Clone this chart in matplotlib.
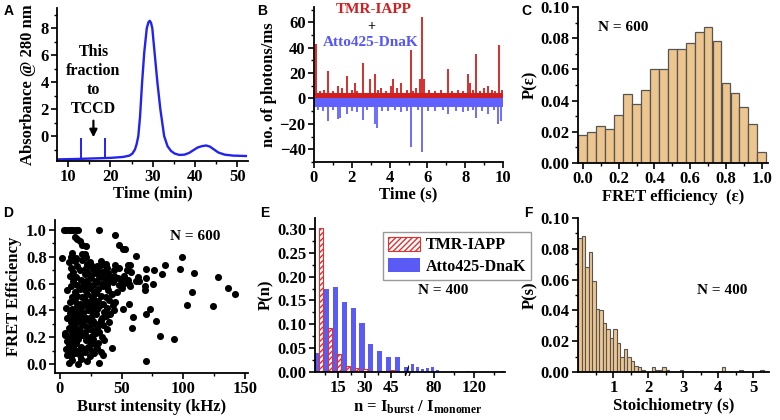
import numpy as np
import matplotlib.pyplot as plt
from matplotlib.ticker import MultipleLocator, FixedLocator
from matplotlib.patches import Patch

plt.rcParams['font.family'] = ['Liberation Serif', 'DejaVu Serif']
plt.rcParams['font.weight'] = 'bold'
plt.rcParams['axes.labelweight'] = 'bold'
plt.rcParams['font.size'] = 12
plt.rcParams['axes.labelsize'] = 12
plt.rcParams['mathtext.fontset'] = 'custom'
plt.rcParams['mathtext.rm'] = 'Liberation Serif:bold'
plt.rcParams['mathtext.it'] = 'Liberation Serif:bold'
plt.rcParams['mathtext.bf'] = 'Liberation Serif:bold'
plt.rcParams['axes.linewidth'] = 1.3
for a in ['xtick', 'ytick']:
    plt.rcParams[a + '.direction'] = 'out'
    plt.rcParams[a + '.major.size'] = 4
    plt.rcParams[a + '.minor.size'] = 2.5
    plt.rcParams[a + '.major.width'] = 1.2
    plt.rcParams[a + '.minor.width'] = 1.0
    plt.rcParams[a + '.major.pad'] = 2

# ---- data ----
# A: chromatogram
time_min = [7.5, 12, 16, 20, 23, 24.5, 25.2, 25.8, 26.2, 26.6, 27.0, 27.5, 28.0, 28.6, 29.0,
            29.3, 29.6, 29.9, 30.5, 31.1, 31.8, 32.7, 33.5, 34.3, 35.2, 36.3, 37.5, 38.6,
            39.6, 40.6, 41.6, 42.6, 43.5, 44.4, 45.5, 47, 49, 52]
absorb = [-1.73, -1.7, -1.66, -1.62, -1.55, -1.45, -1.3, -1.0, -0.6, 0.0, 1.4, 4.0, 6.2, 8.0, 8.45,
          8.55, 8.4, 8.0, 6.0, 4.0, 2.0, 0.0, -0.75, -1.1, -1.3, -1.4, -1.38, -1.25,
          -1.05, -0.85, -0.75, -0.7, -0.78, -0.98, -1.22, -1.38, -1.45, -1.48]
fraction_t = [13.0, 18.7]
fraction_top = [-0.12, -0.15]
fraction_base = [-1.68, -1.63]

# B: photon trace (band level + bursts)
red_level = 4.5
blue_level = -7
red_t = [0.1, 0.74, 1.29, 1.74, 2.17, 2.61, 2.96, 3.22, 3.57, 4.07, 4.19, 4.6, 5.12, 5.42, 5.63,
         5.74, 5.83, 7.09, 8.15, 8.24, 8.57, 9.21, 9.81,
         0.3, 0.55, 1.0, 1.5, 2.0, 2.3, 3.4, 3.8, 4.4, 4.9, 5.25, 6.1, 6.4, 6.7, 7.3, 7.6, 7.9,
         8.4, 8.8, 9.0, 9.4, 9.6, 9.95]
red_h = [43, 22, 10, 18, 12, 28, 15, 19, 8, 10, 15, 12, 38, 8, 15, 64, 15, 23, 19, 12, 35, 10, 42,
         6, 7, 6, 8, 7, 6, 7, 6, 8, 7, 6, 7, 6, 7, 6, 7, 6, 7, 6, 8, 7, 6, 7]
blue_t = [0.74, 1.29, 1.39, 1.74, 2.61, 3.22, 3.31, 3.93, 5.12, 5.74, 6.04, 7.09, 8.15, 8.57,
          9.21, 9.74, 9.88,
          0.2, 0.5, 1.0, 2.0, 2.3, 2.8, 3.6, 4.3, 4.6, 4.9, 5.5, 6.4, 6.8, 7.5, 7.9, 8.4, 8.9, 9.5]
blue_h = [-18, -16, -15, -12, -17, -20, -23, -10, -38, -42, -10, -12, -10, -15, -12, -20, -18,
          -9, -10, -9, -10, -11, -9, -10, -9, -11, -10, -9, -10, -9, -10, -11, -9, -10, -9]

# C: FRET efficiency histogram
fret_bins = [0.0, 0.05, 0.1, 0.15, 0.2, 0.25, 0.3, 0.35, 0.4, 0.45, 0.5, 0.55, 0.6, 0.65,
             0.7, 0.75, 0.8, 0.85, 0.9, 0.95, 1.0]
fret_p = [0.018, 0.020, 0.024, 0.022, 0.031, 0.044, 0.038, 0.047, 0.060, 0.060, 0.073, 0.073,
          0.077, 0.084, 0.087, 0.078, 0.051, 0.045, 0.036, 0.025, 0.007]

# D: burst intensity vs FRET efficiency
scatter_pts = [
    (7, 0.01), (10, 0.03), (15, 0.00), (17, 0.04), (22, 0.02), (32, 0.01),
    (6, 0.07), (9, 0.06), (12, 0.08), (16, 0.07), (20, 0.09), (24, 0.06), (28, 0.08), (35, 0.07),
    (5, 0.11), (8, 0.10), (11, 0.12), (14, 0.10), (19, 0.11), (23, 0.13), (26, 0.10), (30, 0.12), (33, 0.09),
    (7, 0.14), (12, 0.15), (17, 0.13), (25, 0.15), (29, 0.14), (42, 0.12),
    (6, 0.17), (9, 0.18), (13, 0.16), (21, 0.18), (24, 0.17), (27, 0.19), (31, 0.16), (36, 0.18),
    (8, 0.20), (11, 0.21), (15, 0.19), (18, 0.22), (22, 0.20), (26, 0.21), (29, 0.23), (34, 0.20),
    (4, 0.22), (10, 0.24), (13, 0.23), (16, 0.25), (20, 0.24), (24, 0.26), (28, 0.25), (32, 0.24), (38, 0.26),
    (7, 0.27), (11, 0.28), (14, 0.26), (18, 0.29), (22, 0.28), (26, 0.30), (30, 0.27), (35, 0.29),
    (9, 0.31), (12, 0.30), (16, 0.32), (19, 0.31), (23, 0.33), (27, 0.32), (31, 0.30), (33, 0.33), (40, 0.31),
    (6, 0.34), (10, 0.35), (14, 0.33), (17, 0.36), (21, 0.34), (25, 0.35), (29, 0.37), (34, 0.34), (37, 0.36),
    (8, 0.38), (12, 0.37), (15, 0.39), (19, 0.38), (23, 0.40), (27, 0.38), (30, 0.41), (36, 0.39), (41, 0.37), (44, 0.40),
    (5, 0.42), (10, 0.41), (14, 0.43), (17, 0.42), (21, 0.44), (25, 0.42), (28, 0.45), (32, 0.43), (38, 0.42), (43, 0.44),
    (8, 0.46), (12, 0.47), (16, 0.45), (20, 0.48), (24, 0.46), (27, 0.49), (31, 0.47), (35, 0.45), (40, 0.48), (45, 0.46),
    (10, 0.50), (14, 0.51), (18, 0.50), (22, 0.52), (26, 0.50), (29, 0.53), (33, 0.51), (37, 0.50), (42, 0.52),
    (6, 0.55), (12, 0.54), (16, 0.56), (20, 0.55), (24, 0.57), (28, 0.54), (31, 0.56), (35, 0.58), (39, 0.55), (46, 0.54),
    (9, 0.58), (14, 0.59), (19, 0.58), (23, 0.60), (27, 0.59), (30, 0.61), (34, 0.60), (38, 0.58), (43, 0.61), (48, 0.59),
    (11, 0.62), (17, 0.63), (21, 0.62), (25, 0.64), (29, 0.62), (33, 0.65), (37, 0.63), (41, 0.62), (51, 0.60),
    (8, 0.66), (13, 0.65), (20, 0.67), (24, 0.66), (28, 0.68), (32, 0.66), (36, 0.67), (40, 0.65), (45, 0.64), (50, 0.63),
    (11, 0.69), (16, 0.70), (22, 0.69), (27, 0.71), (31, 0.70), (35, 0.69), (39, 0.68), (44, 0.66), (53, 0.62), (56, 0.60),
    (9, 0.72), (14, 0.73), (21, 0.72), (25, 0.74), (30, 0.73), (34, 0.75), (38, 0.72), (47, 0.64), (52, 0.66), (57, 0.58), (62, 0.62),
    (7, 0.76), (12, 0.77), (18, 0.78), (24, 0.76), (33, 0.74), (37, 0.73), (50, 0.57), (55, 0.63), (63, 0.65),
    (9, 0.80), (13, 0.79), (22, 0.75), (44, 0.70), (48, 0.72), (54, 0.70), (58, 0.69), (64, 0.62),
    (10, 0.83), (20, 0.82), (33, 0.77), (37, 0.75), (45, 0.74), (55, 0.74), (57, 0.74),
    (3, 1.0), (5, 1.0), (7, 1.0), (9, 1.0), (11, 1.0), (13, 1.0), (15, 1.0), (32, 1.0),
    (12, 0.95), (14, 0.93), (16, 0.92), (18, 0.89), (21, 0.88), (45, 0.96), (48, 0.89), (53, 0.86),
    (62, 0.81), (2, 0.79), (18, 0.82), (21, 0.80),
    (51, 0.86), (70, 0.71), (76, 0.70), (85, 0.74), (83, 0.67), (97, 0.71), (99, 0.80), (108.6, 0.68),
    (106.7, 0.54), (102.7, 0.44), (128, 0.65), (136, 0.57), (142, 0.52), (124, 0.43), (70, 0.64),
    (75.6, 0.60), (69, 0.58), (69, 0.55), (73, 0.41), (69.7, 0.37), (78, 0.32), (59, 0.35),
    (58.6, 0.27), (81, 0.21), (92.6, 0.19), (70, 0.02), (50.8, 0.41), (56, 0.45), (4, 0.23),
]

# E: size distributions (n = I_burst / I_monomer)
n_dnak = [3.5, 8.5, 13.5, 18.5, 23.5, 28.5, 33.5, 38.5, 43.5, 48.5, 53.5,
          58.5, 63.5, 68.5, 73.5, 78.5, 83.5, 98.5, 113.5, 148.5]
p_dnak = [0.040, 0.174, 0.178, 0.147, 0.135, 0.103, 0.059, 0.045, 0.031, 0.031, 0.010,
          0.017, 0.011, 0.006, 0.008, 0.011, 0.005, 0.002, 0.002, 0.003]
n_iapp = [5.5, 10.5, 15.5, 20.5, 25.5, 30.5, 35.5, 40.5, 45.5]
p_iapp = [0.303, 0.093, 0.038, 0.012, 0.008, 0.006, 0.0, 0.003, 0.004]

# F: stoichiometry histogram
stoich = [0.05, 0.15, 0.25, 0.35, 0.45, 0.55, 0.65, 0.75, 0.85, 0.95, 1.05, 1.15, 1.25, 1.35,
          1.45, 1.55, 1.65, 1.75, 1.85, 2.15, 2.25, 2.35, 2.45, 2.55, 2.95, 4.15, 4.65, 5.25]
p_stoich = [0.087, 0.088, 0.068, 0.078, 0.059, 0.041, 0.040, 0.032, 0.028, 0.022, 0.028, 0.019,
            0.010, 0.015, 0.010, 0.007, 0.004, 0.003, 0.0013, 0.003, 0.0015, 0.0015, 0.003,
            0.0015, 0.0015, 0.003, 0.0015, 0.0015]

tan = '#EDC58E'
edge = '#555555'
W, H = 780, 420


def box(l, r, t, b):
    return [l / W, 1 - b / H, (r - l) / W, (b - t) / H]


def clean(ax):
    ax.spines['top'].set_visible(False)
    ax.spines['right'].set_visible(False)


fig = plt.figure(figsize=(7.8, 4.2), dpi=100)

# ---- A ----
ax = fig.add_axes(box(57, 248, 8, 161))
clean(ax)
ax.plot(time_min, absorb, color='#2323F0', lw=1.7)
ax.vlines(fraction_t, fraction_base, fraction_top, color='#2323F0', lw=1.4)
ax.annotate('', xy=(16, -0.3), xytext=(16, 1.35),
            arrowprops=dict(arrowstyle='-|>', color='black', lw=1.6, mutation_scale=11))
ax.text(16, 4.1, 'This\nfraction\nto\nTCCD', ha='center', va='center', fontsize=11.5, linespacing=1.25)
ax.set_xlim(7.4, 52.5)
ax.set_ylim(-1.85, 9.5)
ax.xaxis.set_major_locator(MultipleLocator(10))
ax.xaxis.set_minor_locator(MultipleLocator(5))
ax.yaxis.set_major_locator(FixedLocator([0, 2, 4, 6, 8]))
ax.yaxis.set_minor_locator(FixedLocator([-1, 1, 3, 5, 7, 9]))
ax.set_xlabel('Time (min)', labelpad=0)
ax.set_ylabel('Absorbance @ 280 nm', labelpad=3)

# ---- B ----
ax = fig.add_axes(box(314, 503, 7, 162))
clean(ax)
ax.fill_between([0, 10], 0, red_level, color='#D21E1E', lw=0)
ax.fill_between([0, 10], blue_level, 0, color='#6161FF', lw=0)
ax.vlines(blue_t, 0, blue_h, color='#6161FF', lw=1.3)
ax.vlines(red_t, 0, red_h, color='#D21E1E', lw=1.3)
ax.text(3.15, 70, 'TMR-IAPP', color='#D21E1E', ha='center', va='center', fontsize=11)
ax.text(3.05, 56.5, '+', color='black', ha='center', va='center', fontsize=10)
ax.text(3.0, 44, 'Atto425-DnaK', color='#5555FF', ha='center', va='center', fontsize=11)
ax.set_xlim(0, 10)
ax.set_ylim(-50, 72)
ax.xaxis.set_major_locator(MultipleLocator(2))
ax.xaxis.set_minor_locator(MultipleLocator(1))
ax.yaxis.set_major_locator(MultipleLocator(20))
ax.yaxis.set_minor_locator(MultipleLocator(10))
ax.set_xlabel('Time (s)', labelpad=0)
ax.set_ylabel('no. of photons/ms', labelpad=2)

# ---- C ----
ax = fig.add_axes(box(578, 768, 7, 163))
clean(ax)
ax.bar(fret_bins, fret_p, width=0.049, color=tan, edgecolor=edge, lw=0.9)
ax.text(0.24, 0.87, 'N = 600', transform=ax.transAxes, ha='center', va='center', fontsize=11)
ax.set_xlim(-0.027, 1.035)
ax.set_ylim(0, 0.10)
ax.xaxis.set_major_locator(MultipleLocator(0.2))
ax.xaxis.set_minor_locator(MultipleLocator(0.1))
ax.yaxis.set_major_locator(MultipleLocator(0.02))
ax.yaxis.set_minor_locator(MultipleLocator(0.01))
ax.xaxis.set_major_formatter(lambda v, p: f'{v:.1f}')
ax.yaxis.set_major_formatter(lambda v, p: f'{v:.2f}')
ax.set_xlabel('FRET efficiency  (ε)', labelpad=1)
ax.set_ylabel('P(ε)', labelpad=2)

# ---- D ----
ax = fig.add_axes(box(55, 248, 220, 373))
clean(ax)
burst, eff = np.array(scatter_pts).T
ax.scatter(burst, eff, s=26, color='black', lw=0)
ax.text(0.725, 0.89, 'N = 600', transform=ax.transAxes, ha='center', va='center', fontsize=11)
ax.set_xlim(-4, 152.5)
ax.set_ylim(-0.067, 1.075)
ax.xaxis.set_major_locator(MultipleLocator(50))
ax.xaxis.set_minor_locator(MultipleLocator(25))
ax.yaxis.set_major_locator(MultipleLocator(0.2))
ax.yaxis.set_minor_locator(MultipleLocator(0.1))
ax.yaxis.set_major_formatter(lambda v, p: f'{v:.1f}')
ax.set_xlabel('Burst intensity (kHz)', labelpad=1)
ax.set_ylabel('FRET Efficiency', labelpad=3)

# ---- E (broken x axis) ----
axl = fig.add_axes(box(315, 409, 218, 372))
axr = fig.add_axes(box(409, 505, 218, 372), sharey=axl)
for a in (axl, axr):
    a.spines['top'].set_visible(False)
    a.spines['right'].set_visible(False)
axr.spines['left'].set_visible(False)
axr.tick_params(axis='y', which='both', left=False, labelleft=False)
axl.bar(n_dnak, p_dnak, width=2.9, color='#5A5AF5', lw=0)
axl.bar(n_iapp, p_iapp, width=2.4, facecolor='white', edgecolor='#E03030', hatch='//////', lw=0.8)
axr.bar(n_dnak, p_dnak, width=3.0, color='#5A5AF5', lw=0)
axl.set_xlim(2, 55)
axr.set_xlim(55, 151)
axl.set_ylim(0, 0.323)
axl.xaxis.set_major_locator(FixedLocator([15, 30, 45]))
axl.xaxis.set_minor_locator(FixedLocator([7.5, 22.5, 37.5, 52.5]))
axr.xaxis.set_major_locator(FixedLocator([80, 120]))
axr.xaxis.set_minor_locator(FixedLocator([100, 140]))
axl.yaxis.set_major_locator(MultipleLocator(0.05))
axl.yaxis.set_minor_locator(MultipleLocator(0.025))
axl.yaxis.set_major_formatter(lambda v, p: f'{v:.2f}')
axl.set_ylabel('P(n)', labelpad=2)
axl.text(1.0, 0.0, '//', transform=axl.transAxes, ha='center', va='center', fontsize=12,
         color='black')
fig.text(418 / W, 1 - 407 / H, r'n = I$_{\rm burst}$ / I$_{\rm monomer}$', ha='center', va='center',
         fontsize=12)
fig.text(443 / W, 1 - 290 / H, 'N = 400', ha='center', va='center', fontsize=11)
handles = [Patch(facecolor='white', edgecolor='#E03030', hatch='//////', lw=0.8, label='TMR-IAPP'),
           Patch(facecolor='#5A5AF5', lw=0, label='Atto425-DnaK')]
fig.legend(handles=handles, loc='upper left', bbox_to_anchor=(383 / W, 1 - 232 / H), fontsize=11.5,
           frameon=True, fancybox=False, edgecolor='#999999', framealpha=1, handlelength=2.0,
           handleheight=1.0, borderpad=0.3, labelspacing=0.3, handletextpad=0.4, borderaxespad=0)

# ---- F ----
ax = fig.add_axes(box(578, 769, 218, 372))
clean(ax)
ax.bar(stoich, p_stoich, width=0.1, color=tan, edgecolor=edge, lw=0.8)
ax.text(0.754, 0.53, 'N = 400', transform=ax.transAxes, ha='center', va='center', fontsize=11)
ax.set_xlim(-0.01, 5.45)
ax.set_ylim(0, 0.10)
ax.xaxis.set_major_locator(FixedLocator([1, 2, 3, 4, 5]))
ax.xaxis.set_minor_locator(FixedLocator([0.5, 1.5, 2.5, 3.5, 4.5]))
ax.yaxis.set_major_locator(MultipleLocator(0.02))
ax.yaxis.set_minor_locator(MultipleLocator(0.01))
ax.yaxis.set_major_formatter(lambda v, p: f'{v:.2f}')
ax.set_xlabel('Stoichiometry (s)', labelpad=1)
ax.set_ylabel('P(s)', labelpad=2)

# panel letters
for lab, x, y in [('A', 9, 11), ('B', 262, 11), ('C', 526, 11),
                  ('D', 8, 213), ('E', 265, 213), ('F', 528, 213)]:
    fig.text(x / W, 1 - y / H, lab, family='Liberation Sans', fontsize=10, weight='bold',
             ha='center', va='center')

fig.savefig('out.png', dpi=100)
